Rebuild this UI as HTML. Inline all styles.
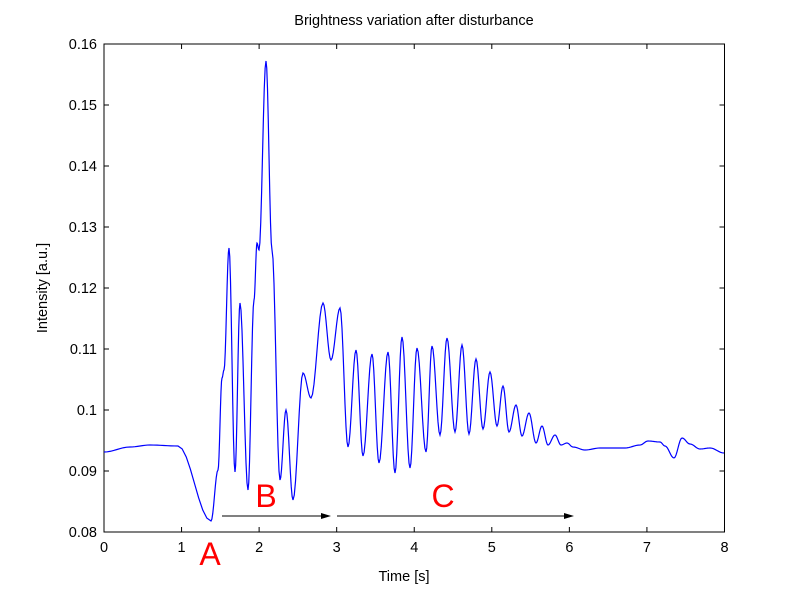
<!DOCTYPE html>
<html><head><meta charset="utf-8"><style>
html,body{margin:0;padding:0;background:#fff;}
svg{display:block;font-family:"Liberation Sans",sans-serif;}
</style></head><body>
<svg id="s" width="800" height="599" viewBox="0 0 800 599">
<rect x="0" y="0" width="800" height="599" fill="#fff"/>
<rect x="104" y="44" width="620.5" height="488" fill="#fff" stroke="#000" stroke-width="1"/>
<g id="ticks" stroke="#000" stroke-width="1"></g>
<g id="labels" font-size="14.5" fill="#000"></g>
<text x="414" y="25" font-size="14.5" text-anchor="middle">Brightness variation after disturbance</text>
<text x="404" y="581" font-size="14.5" text-anchor="middle">Time [s]</text>
<text transform="translate(47,288) rotate(-90)" font-size="14.5" text-anchor="middle">Intensity [a.u.]</text>
<path id="curve" fill="none" stroke="#0000ff" stroke-width="1.2"/>
<line x1="222" y1="516" x2="324" y2="516" stroke="#000" stroke-width="1"/>
<polygon points="331,516 321,513 321,519" fill="#000"/>
<line x1="337" y1="516" x2="567" y2="516" stroke="#000" stroke-width="1"/>
<polygon points="574,516 564,513 564,519" fill="#000"/>
<text x="210" y="565" font-size="32" fill="#ff0000" text-anchor="middle">A</text>
<text x="266" y="507" font-size="32" fill="#ff0000" text-anchor="middle">B</text>
<text x="443" y="507" font-size="32" fill="#ff0000" text-anchor="middle">C</text>
</svg>
<script>
var t=document.getElementById('ticks'),l=document.getElementById('labels'),ns='http://www.w3.org/2000/svg';
function el(p,n,a,txt){var e=document.createElementNS(ns,n);for(var k in a)e.setAttribute(k,a[k]);if(txt!==undefined)e.textContent=txt;p.appendChild(e);}
for(var i=0;i<=8;i++){var x=104+i*77.56;el(t,'line',{x1:x,y1:532,x2:x,y2:527});el(t,'line',{x1:x,y1:44,x2:x,y2:49});el(l,'text',{x:x,y:552,'text-anchor':'middle'},String(i));}
var yl=['0.08','0.09','0.1','0.11','0.12','0.13','0.14','0.15','0.16'];
for(var j=0;j<=8;j++){var y=532-j*61;el(t,'line',{x1:104,y1:y,x2:109,y2:y});el(t,'line',{x1:724.5,y1:y,x2:719.5,y2:y});el(l,'text',{x:97,y:y+5,'text-anchor':'end'},yl[j]);}
var P=[[104,452],[130,447],[150,445],[178,446],[211,521],[218,470],[222,378],[224,370],[229,248],[235,472],[240,303],[248,490],[254,300],[257,243],[259,250],[266,61],[272,250],[280,480],[286,410],[293,500],[303,373],[311,398],[323,303],[331,360],[340,308],[348,447],[356,350],[363,456],[372,354],[379,463],[388,352],[395,473],[402,337],[410,468],[417,348],[426,452],[432,346],[440,435],[447,338],[455,432],[462,345],[469,434],[476,359],[483,429],[490,372],[497,426],[503,386],[509,432],[516,405],[522,436],[529,413],[536,443],[542,426],[548,445],[555,435],[561,445],[567,443],[573,447],[585,450],[600,448],[625,448],[640,445],[648,441],[660,442],[665,446],[674,458],[682,438],[690,444],[700,449],[710,448],[724,453]];
var d='M'+P[0][0]+','+P[0][1];
for(var k=1;k<P.length;k++){var a=P[k-1],b=P[k];for(var s=1;s<=8;s++){var u=s/8,m=(1-Math.cos(Math.PI*u))/2;d+=' L'+(a[0]+(b[0]-a[0])*u).toFixed(2)+','+(a[1]+(b[1]-a[1])*m).toFixed(2);}}
document.getElementById('curve').setAttribute('d',d);
</script>
</body></html>
